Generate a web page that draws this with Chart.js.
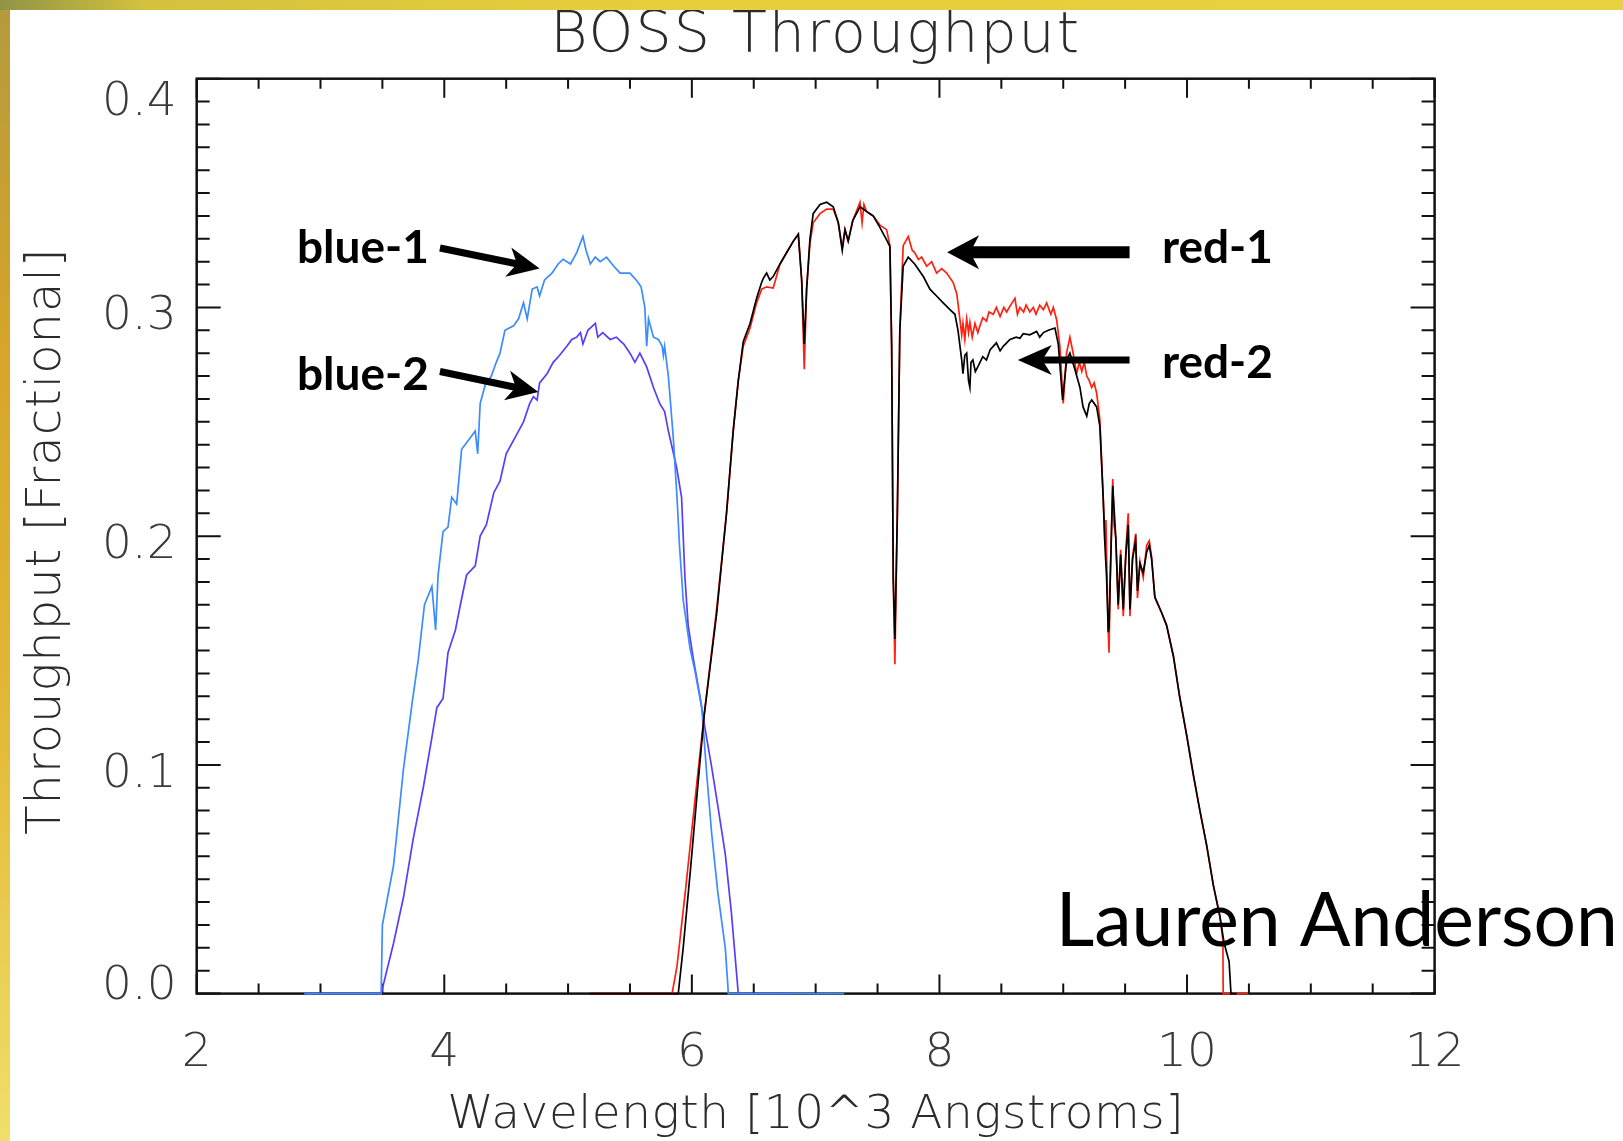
<!DOCTYPE html>
<html>
<head>
<meta charset="utf-8">
<title>BOSS Throughput</title>
<script src="https://cdn.jsdelivr.net/npm/chart.js@4.4.1/dist/chart.umd.min.js"></script>
<style>
  html, body { margin:0; padding:0; width:1623px; height:1141px; overflow:hidden }
  body { position:relative; background:linear-gradient(180deg,#b49a3e 0%,#d6a42a 30%,#e2b634 60%,#f0df6a 100%) }
  #topband { position:absolute; left:0; top:0; width:1623px; height:10px; background:linear-gradient(90deg,#8f9446 0%,#d4c23e 9%,#e7ce3b 40%,#e8d23f 100%) }
  #panel { position:absolute; left:10px; top:10px; width:1613px; height:1131px; background:#fff }
  canvas { display:block }
</style>
</head>
<body>
<div id="topband"></div>
<div id="panel"><canvas id="chart" width="1613" height="1131"></canvas></div>
<script>
// wavelength [10^3 A], throughput [fractional]
const blue1 = [
  [2.87,0],[3.49,0],[3.50,0.030],[3.59,0.056],[3.67,0.098],[3.74,0.127],[3.79,0.146],[3.84,0.170],
  [3.90,0.178],[3.93,0.159],[3.95,0.183],[3.99,0.202],[4.03,0.204],[4.06,0.217],[4.10,0.214],[4.14,0.238],
  [4.21,0.243],[4.25,0.246],[4.27,0.236],[4.29,0.258],[4.33,0.266],[4.38,0.270],[4.42,0.276],[4.45,0.280],
  [4.49,0.290],[4.56,0.292],[4.60,0.295],[4.64,0.302],[4.67,0.295],[4.71,0.308],[4.75,0.309],[4.77,0.305],
  [4.81,0.312],[4.87,0.315],[4.92,0.319],[4.96,0.321],[5.02,0.319],[5.07,0.324],[5.12,0.331],[5.145,0.325],
  [5.18,0.319],[5.22,0.322],[5.26,0.320],[5.31,0.322],[5.37,0.318],[5.42,0.315],[5.50,0.315],[5.55,0.312],
  [5.59,0.309],[5.62,0.300],[5.635,0.283],[5.65,0.295],[5.69,0.287],[5.73,0.286],[5.76,0.283],[5.77,0.279],
  [5.78,0.283],[5.81,0.270],[5.85,0.243],[5.88,0.217],[5.90,0.196],[5.93,0.172],[5.985,0.151],[6.025,0.141],
  [6.08,0.125],[6.12,0.096],[6.16,0.070],[6.21,0.044],[6.27,0.020],[6.295,0],[7.23,0]
]
const blue2 = [
  [2.87,0],[3.49,0],[3.59,0.022],[3.67,0.042],[3.75,0.068],[3.83,0.090],[3.90,0.112],[3.94,0.125],
  [3.99,0.129],[4.03,0.149],[4.09,0.159],[4.13,0.170],[4.18,0.183],[4.25,0.187],[4.29,0.200],[4.34,0.205],
  [4.40,0.219],[4.45,0.224],[4.50,0.236],[4.57,0.243],[4.64,0.250],[4.69,0.258],[4.72,0.261],[4.75,0.2595],
  [4.77,0.267],[4.83,0.271],[4.88,0.276],[4.93,0.279],[4.99,0.283],[5.03,0.286],[5.07,0.287],[5.10,0.289],
  [5.12,0.284],[5.16,0.290],[5.22,0.293],[5.24,0.287],[5.28,0.289],[5.34,0.286],[5.39,0.287],[5.45,0.284],
  [5.50,0.280],[5.54,0.276],[5.58,0.280],[5.635,0.274],[5.69,0.265],[5.74,0.258],[5.78,0.2545],[5.81,0.246],
  [5.877,0.230],[5.917,0.217],[5.944,0.182],[5.97,0.161],[6.01,0.147],[6.065,0.130],[6.106,0.116],[6.16,0.099],
  [6.21,0.082],[6.27,0.061],[6.32,0.035],[6.375,0],[6.80,0]
]
const red1 = [
  [5.17,0],[5.84,0],[5.88,0.012],[5.95,0.046],[6.03,0.087],[6.10,0.122],[6.20,0.168],[6.28,0.210],
  [6.334,0.246],[6.375,0.268],[6.415,0.283],[6.47,0.291],[6.523,0.302],[6.564,0.308],[6.604,0.309],[6.657,0.3085],
  [6.712,0.319],[6.766,0.324],[6.82,0.329],[6.86,0.332],[6.887,0.312],[6.908,0.273],[6.927,0.308],[6.954,0.328],
  [6.98,0.337],[7.035,0.341],[7.089,0.343],[7.142,0.343],[7.183,0.337],[7.215,0.326],[7.237,0.334],[7.263,0.329],
  [7.30,0.338],[7.358,0.346],[7.375,0.337],[7.39,0.345],[7.41,0.342],[7.465,0.340],[7.519,0.336],[7.573,0.334],
  [7.60,0.327],[7.614,0.283],[7.627,0.181],[7.64,0.144],[7.66,0.210],[7.68,0.290],[7.707,0.327],[7.748,0.331],
  [7.78,0.325],[7.80,0.324],[7.83,0.321],[7.856,0.322],[7.897,0.318],[7.937,0.320],[7.977,0.315],[8.018,0.317],
  [8.058,0.315],[8.11,0.311],[8.14,0.306],[8.166,0.2945],[8.18,0.288],[8.19,0.293],[8.205,0.286],[8.22,0.295],
  [8.235,0.289],[8.246,0.2935],[8.265,0.287],[8.287,0.293],[8.31,0.289],[8.327,0.292],[8.35,0.2955],[8.38,0.294],
  [8.40,0.298],[8.435,0.297],[8.46,0.300],[8.49,0.296],[8.52,0.300],[8.543,0.298],[8.575,0.301],[8.61,0.304],
  [8.63,0.297],[8.65,0.300],[8.68,0.298],[8.70,0.301],[8.73,0.298],[8.758,0.300],[8.78,0.297],[8.81,0.301],
  [8.84,0.299],[8.866,0.302],[8.90,0.297],[8.92,0.300],[8.947,0.2945],[8.973,0.283],[9.00,0.258],[9.027,0.280],
  [9.054,0.287],[9.08,0.280],[9.108,0.271],[9.13,0.276],[9.15,0.272],[9.17,0.276],[9.19,0.270],[9.21,0.268],
  [9.23,0.265],[9.25,0.267],[9.27,0.2625],[9.296,0.251],[9.323,0.2165],[9.337,0.196],[9.345,0.207],[9.35,0.192],
  [9.364,0.158],[9.37,0.149],[9.38,0.182],[9.40,0.225],[9.41,0.205],[9.425,0.199],[9.444,0.168],[9.464,0.194],
  [9.485,0.165],[9.506,0.194],[9.525,0.210],[9.539,0.165],[9.56,0.191],[9.585,0.201],[9.60,0.173],[9.62,0.189],
  [9.646,0.182],[9.674,0.196],[9.695,0.198],[9.714,0.191],[9.74,0.173],[9.795,0.1665],[9.835,0.161],[9.89,0.1475],
  [9.94,0.130],[9.997,0.113],[10.05,0.096],[10.104,0.080],[10.158,0.065],[10.212,0.0475],[10.266,0.0336],[10.29,0.0233],
  [10.292,0],[10.494,0]
]
const red2 = [
  [5.17,0],[5.89,0],[5.93,0.020],[5.99,0.055],[6.05,0.092],[6.10,0.122],[6.20,0.166],[6.28,0.210],
  [6.334,0.246],[6.375,0.268],[6.415,0.285],[6.47,0.293],[6.523,0.304],[6.564,0.311],[6.58,0.313],[6.604,0.315],
  [6.63,0.312],[6.657,0.3135],[6.712,0.319],[6.766,0.324],[6.82,0.329],[6.86,0.332],[6.887,0.312],[6.908,0.284],
  [6.927,0.308],[6.954,0.330],[6.98,0.341],[7.035,0.345],[7.089,0.346],[7.142,0.344],[7.183,0.337],[7.215,0.325],
  [7.237,0.334],[7.263,0.329],[7.30,0.338],[7.358,0.344],[7.41,0.342],[7.465,0.340],[7.519,0.335],[7.573,0.3295],
  [7.60,0.3266],[7.614,0.283],[7.627,0.181],[7.64,0.155],[7.66,0.210],[7.68,0.290],[7.707,0.318],[7.748,0.322],
  [7.80,0.319],[7.87,0.3135],[7.923,0.308],[7.977,0.305],[8.03,0.302],[8.085,0.299],[8.125,0.297],[8.15,0.290],
  [8.18,0.277],[8.19,0.271],[8.205,0.279],[8.22,0.280],[8.235,0.268],[8.246,0.265],[8.255,0.276],[8.27,0.277],
  [8.29,0.272],[8.31,0.274],[8.35,0.2785],[8.38,0.277],[8.41,0.2815],[8.46,0.2845],[8.49,0.281],[8.515,0.283],
  [8.57,0.286],[8.62,0.287],[8.65,0.2865],[8.677,0.2885],[8.73,0.288],[8.785,0.2895],[8.81,0.287],[8.84,0.289],
  [8.88,0.290],[8.933,0.291],[8.96,0.284],[8.995,0.2595],[9.027,0.277],[9.054,0.280],[9.094,0.273],[9.135,0.265],
  [9.16,0.2565],[9.19,0.2525],[9.21,0.258],[9.23,0.2595],[9.27,0.2565],[9.296,0.248],[9.323,0.2165],[9.337,0.196],
  [9.35,0.182],[9.364,0.158],[9.37,0.160],[9.38,0.182],[9.40,0.222],[9.425,0.199],[9.444,0.170],[9.464,0.192],
  [9.485,0.168],[9.506,0.192],[9.525,0.205],[9.539,0.168],[9.56,0.190],[9.585,0.198],[9.60,0.176],[9.62,0.188],
  [9.646,0.184],[9.674,0.193],[9.695,0.196],[9.714,0.190],[9.74,0.1735],[9.795,0.1665],[9.835,0.161],[9.89,0.1475],
  [9.94,0.130],[9.997,0.113],[10.05,0.096],[10.104,0.080],[10.158,0.065],[10.212,0.0475],[10.266,0.0336],[10.30,0.022],
  [10.34,0.014],[10.355,0],[10.40,0]
]

const xTicks = [2, 4, 6, 8, 10, 12]
const yTicks = [0, 0.1, 0.2, 0.3, 0.4]
const yTickText = ['0.0', '0.1', '0.2', '0.3', '0.4']

// arrows and curve names, anchored in data units
const arrows = [
  { from:[3.965,0.326], to:[4.77,0.317], shaft:7, len:32, half:15 },
  { from:[3.965,0.272], to:[4.76,0.263], shaft:7, len:32, half:15 },
  { from:[9.536,0.3241], to:[8.062,0.3241], shaft:12, len:32, half:17 },
  { from:[9.536,0.277], to:[8.633,0.277], shaft:7, len:34, half:15 }
]
const names = [
  { text:'blue-1', at:[2.81,0.3195] },
  { text:'blue-2', at:[2.81,0.264] },
  { text:'red-1', at:[9.797,0.3195] },
  { text:'red-2', at:[9.797,0.2692] }
]

const THIN = "'DejaVu Sans', 'Liberation Sans', sans-serif"
const INK = '#2b2b2b'

const framePlugin = {
  id: 'frame',
  beforeDatasetsDraw(chart) {
    const { ctx, chartArea: a, scales: { x, y } } = chart
    ctx.save()
    ctx.strokeStyle = '#111'
    ctx.lineWidth = 2
    ctx.beginPath()
    // x ticks every 0.5, bottom and top
    for (let i = 0; i <= 20; i++) {
      const px = x.getPixelForValue(2 + i * 0.5)
      const len = i % 4 === 0 ? 19 : 10
      ctx.moveTo(px, a.bottom); ctx.lineTo(px, a.bottom - len)
      ctx.moveTo(px, a.top); ctx.lineTo(px, a.top + len)
    }
    // y ticks every 0.01, left and right
    for (let i = 0; i <= 40; i++) {
      const py = y.getPixelForValue(i * 0.01)
      const len = i % 10 === 0 ? 24 : 13
      ctx.moveTo(a.left, py); ctx.lineTo(a.left + len, py)
      ctx.moveTo(a.right, py); ctx.lineTo(a.right - len, py)
    }
    ctx.stroke()
    ctx.lineWidth = 2.5
    ctx.strokeRect(a.left, a.top, a.right - a.left, a.bottom - a.top)
    ctx.restore()
  },
  afterDraw(chart) {
    const { ctx, chartArea: a, scales: { x, y } } = chart
    ctx.save()
    ctx.fillStyle = '#3a3a3a'
    ctx.font = `200 47px ${THIN}`
    ctx.textAlign = 'center'
    ctx.textBaseline = 'alphabetic'
    xTicks.forEach(v => ctx.fillText(String(v), x.getPixelForValue(v), a.bottom + 72))
    ctx.textAlign = 'right'
    yTicks.forEach((v, i) => {
      let base = y.getPixelForValue(v) + 22
      base = Math.min(Math.max(base, a.top + 36), a.bottom + 5)
      ctx.fillText(yTickText[i], a.left - 20, base)
    })

    ctx.fillStyle = INK
    ctx.textAlign = 'center'
    ctx.letterSpacing = '2px'
    ctx.font = `200 57px ${THIN}`
    ctx.fillText('BOSS Throughput', (a.left + a.right) / 2, 42)
    ctx.letterSpacing = '0.5px'
    ctx.font = `200 47px ${THIN}`
    ctx.fillText('Wavelength [10^3 Angstroms]', (a.left + a.right) / 2, a.bottom + 134)
    ctx.save()
    ctx.translate(50, (a.top + a.bottom) / 2 + 5)
    ctx.rotate(-Math.PI / 2)
    ctx.letterSpacing = '1px'
    ctx.font = `200 48px ${THIN}`
    ctx.fillText('Throughput [Fractional]', 0, 0)
    ctx.restore()
    ctx.letterSpacing = '0px'

    // arrows
    ctx.fillStyle = '#000'
    ctx.strokeStyle = '#000'
    arrows.forEach(ar => {
      const x0 = x.getPixelForValue(ar.from[0]), y0 = y.getPixelForValue(ar.from[1])
      const x1 = x.getPixelForValue(ar.to[0]), y1 = y.getPixelForValue(ar.to[1])
      const d = Math.hypot(x1 - x0, y1 - y0)
      const ux = (x1 - x0) / d, uy = (y1 - y0) / d
      const nx = -uy, ny = ux
      ctx.lineWidth = ar.shaft
      ctx.beginPath()
      ctx.moveTo(x0, y0)
      ctx.lineTo(x1 - ux * ar.len * 0.7, y1 - uy * ar.len * 0.7)
      ctx.stroke()
      ctx.beginPath()
      ctx.moveTo(x1, y1)
      ctx.lineTo(x1 - ux * ar.len + nx * ar.half, y1 - uy * ar.len + ny * ar.half)
      ctx.lineTo(x1 - ux * ar.len * 0.72, y1 - uy * ar.len * 0.72)
      ctx.lineTo(x1 - ux * ar.len - nx * ar.half, y1 - uy * ar.len - ny * ar.half)
      ctx.closePath()
      ctx.fill()
    })

    ctx.textAlign = 'left'
    ctx.font = "700 46px Lato, 'Open Sans', sans-serif"
    names.forEach(n => ctx.fillText(n.text, x.getPixelForValue(n.at[0]), y.getPixelForValue(n.at[1])))

    ctx.font = "400 75px Lato, 'Open Sans', sans-serif"
    ctx.fillText('Lauren Anderson', x.getPixelForValue(8.94), y.getPixelForValue(0.0208))
    ctx.restore()
  }
}

const line = (label, data, color) => ({
  label, data, borderColor: color, borderWidth: 1.7,
  pointRadius: 0, tension: 0, fill: false, clip: 4
})

new Chart(document.getElementById('chart'), {
  type: 'line',
  data: {
    datasets: [
      line('red-2', red2, '#000000'),
      line('red-1', red1, '#ff2010'),
      line('blue-1', blue1, '#3a8cff'),
      line('blue-2', blue2, '#5a3cff')
    ]
  },
  options: {
    responsive: false,
    animation: false,
    layout: { padding: { left: 0, right: 188.4, top: 68.7, bottom: 0 } },
    plugins: { legend: { display: false }, tooltip: { enabled: false }, title: { display: false } },
    scales: {
      x: {
        type: 'linear', min: 2, max: 12,
        ticks: { display: false }, grid: { display: false, drawTicks: false }, border: { display: false },
        afterFit(s) { s.height = 147.4 }
      },
      y: {
        type: 'linear', min: 0, max: 0.4,
        ticks: { display: false }, grid: { display: false, drawTicks: false }, border: { display: false },
        afterFit(s) { s.width = 186.7 }
      }
    }
  },
  plugins: [framePlugin]
})
</script>
</body>
</html>
